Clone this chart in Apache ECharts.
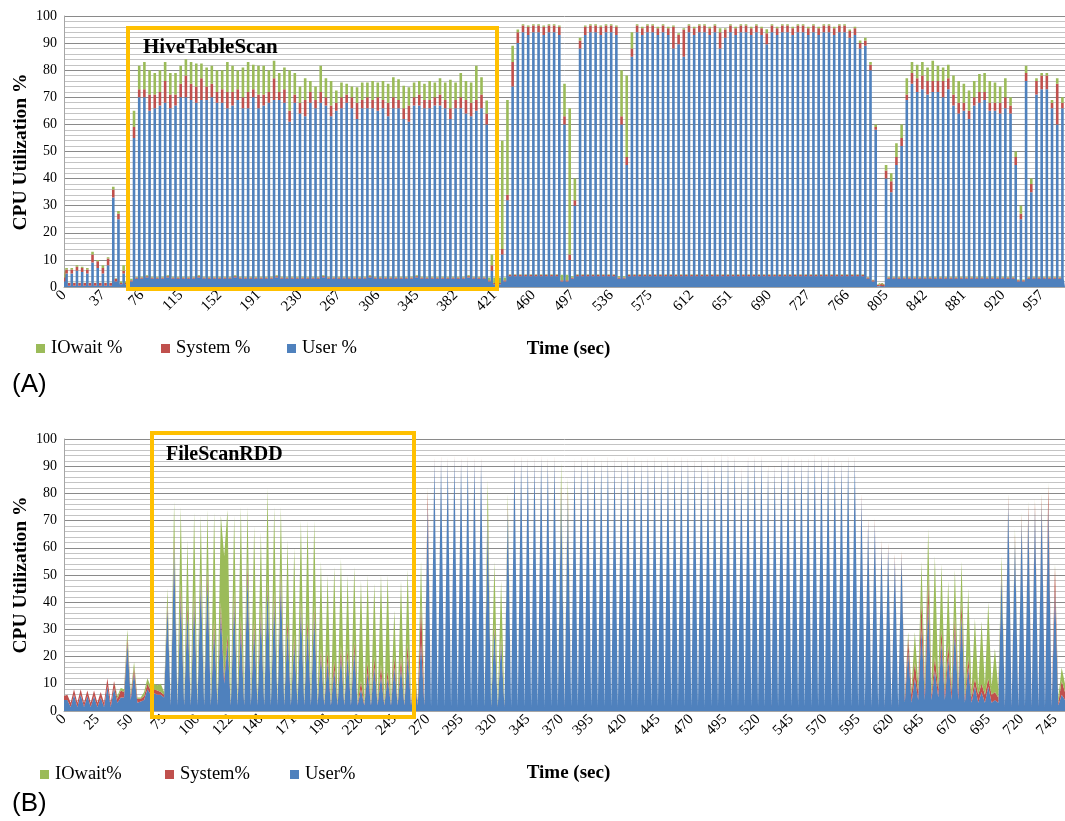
<!DOCTYPE html>
<html>
<head>
<meta charset="utf-8">
<script src="https://cdn.jsdelivr.net/npm/echarts@6/dist/echarts.min.js"></script>
<style>html,body{margin:0;padding:0;background:#fff;}#c{width:1065px;height:821px;}</style>
</head>
<body>
<div id="c"></div>
<script>
// ---------- Panel (A): HiveTableScan ----------
const tickLabelsA = ['0','37','76','115','152','191','230','267','306','345','382','421','460','497','536','575','612','651','690','727','766','805','842','881','920','957'];
const tickStepA = 115 / 3;   // seconds between labelled ticks
const sampleStepA = 2.539;   // seconds between samples (peaks and troughs alternate)

const userPeakA = [
  5,5,6,5.5,5,9,7,5,8,33,25,5,20,55,
  70,70,65,66,67,68,66,67,70,70,69,68,69,69,70,68,68,66,67,69,66,66,70,66,67,68,69,69,68,61,68,64,63,68,66,68,67,63,65,66,68,66,
  62,66,66,66,65,66,63,66,66,62,61,67,67,66,66,67,67,66,62,66,66,64,63,65,66,60,
  6,10,12,32,74,90,94,93,94,94,93,94,94,93,60,10,30,88,93,94,94,93,94,94,93,60,45,85,
  94,93,94,94,93,94,93,88,89.6,85,94,93,94,94,93,94,88,92,94,93,94,94,93,94,93,89.6,94,93,94,94,93,94,94,93,94,93,94,94,93,94,94,92,93,
  88,89,80,58,0.5,
  40,35,45,52,69,75,72,73,71,72,72,70,73,67,64,65,62,67,68,69,65,65,64,66,64,45,25,76,35,71,73,73,66,60,66
];
const sysPeakA = [
  1.5,1.5,1.5,1.5,1.5,3,2.5,2,2.5,3,2,1,2,4,
  3,3,6,5,5,8,5,4,5,8,6,6,8,5,5,4,5,6,5,4,4,6,3,5,4,4,8,3,5,4,3,4,6,4,3,4,3,4,3,4,3,4,
  6,3,4,3,5,3,5,4,3,4,6,3,4,3,3,3,4,3,4,3,4,5,5,4,5,4,
  2,2,2,2,9,4,2.5,3,2.5,2.5,3,2.5,2.5,3,3,2,2,3,3,2.5,2.5,3,2.5,2.5,3,3,3,3,
  2.5,2.5,2.5,2.5,2.5,2.5,2.5,8,3.5,10,2.5,2.5,2.5,2.5,2.5,2.5,6,3,2.5,2.5,2.5,2.5,2.5,2.5,2.5,4,2.5,2.5,2.5,2.5,2.5,2.5,2.5,2.5,2.5,2.5,2.5,2.5,2.5,2.5,2.5,2.5,2.5,
  2,2,2,1,1,
  3,4,3,3,2,4,5,5,5,4,4,6,4,4,4,3,3,3,4,3,3,3,4,4,3,3,2,3,3,5,5,5,2,15,2
];
const ioPeakA = [
  0.5,0.5,0.5,0.5,0.5,1,0.5,1,0.5,1,1,2,5,6,
  8.6,10,9,8,8,7,8,8,6.6,6,8,8.5,5.5,7,6.6,8,7,11,9.6,7,11,11,9,10.6,10.6,8,6.5,7,8,15,8,6,8,4,5,9.6,7,9,4.5,5.5,4,4,
  5.7,6.5,5.5,7,5.5,7,7,7.4,7.7,8.3,6.7,5.5,5,6,7,5.5,6,6.5,10.5,6.5,9,7,7.5,12.6,6.4,4.8,
  4,18,40,35,6,1,0.5,0.5,0.5,0.5,0.5,0.5,0.5,0.5,12,54,8,1,0.5,0.5,0.5,0.5,0.5,0.5,0.5,17,30,6,
  0.5,0.5,0.5,0.5,0.5,0.5,0.5,0.5,0.5,0.5,0.5,0.5,0.5,0.5,0.5,0.5,1.5,0.5,0.5,0.5,0.5,0.5,0.5,0.5,0.5,1.5,0.5,0.5,0.5,0.5,0.5,0.5,0.5,0.5,0.5,0.5,0.5,0.5,0.5,0.5,0.5,0.5,0.5,
  1,1,1,1,0,
  2,3,5,5,6,4,5,5,5,7.5,5.6,5,5,7,8,7,7.5,6,6.6,7,8,7.5,6,7,3,2,3,2.6,2,1,1,1,1,2,2
];
// troughs: one before every peak, plus one at the end
const userLowA = [
  2,0.5,0.5,0.5,0.5,0.5,0.5,0.5,0.5,0.5,2,1,1,2,
  3,3,3.5,3,3,3,3.5,3,3,3,3,3,3.5,3,3,3,3,3,3,3.5,3,3,3,3,3,3,3,3.5,3,3,3,3,3,3,3,3,3.5,3,3,3,3,3,
  3,3,3,3.5,3,3,3,3,3,3,3,3,3.5,3,3,3,3,3,3,3,3,3,3.5,3,3,3,
  2,1,1,2,
  4,4,4,4,4,4,4,4,4,4,2,2,3,4,4,4,4,4,4,4,4,3,3,4,4,4,4,4,4,4,4,4,4,4,4,4,4,4,4,4,4,4,4,4,4,4,4,4,4,4,4,4,4,4,4,4,4,4,4,4,4,4,4,4,4,4,4,4,4,3,2,
  0.3,0.3,
  3,3,3,3,3,3,3,3,3,3,3,3,3,3,3,3,3,3,3,3,3,3,3,3,3,2,2,3,3,3,3,3,3,3,
  3
];
const sysLowA = [
  1.5,1,1,1,1,1,1,1,1,1,1,0.5,0.5,0.5,
  0.5,0.5,0.5,0.5,0.5,0.5,0.5,0.5,0.5,0.5,0.5,0.5,0.5,0.5,0.5,0.5,0.5,0.5,0.5,0.5,0.5,0.5,0.5,0.5,0.5,0.5,0.5,0.5,0.5,0.5,0.5,0.5,0.5,0.5,0.5,0.5,0.5,0.5,0.5,0.5,0.5,0.5,
  0.5,0.5,0.5,0.5,0.5,0.5,0.5,0.5,0.5,0.5,0.5,0.5,0.5,0.5,0.5,0.5,0.5,0.5,0.5,0.5,0.5,0.5,0.5,0.5,0.5,0.5,
  0.5,0.5,0.5,0.5,
  0.5,0.5,0.5,0.5,0.5,0.5,0.5,0.5,0.5,0.5,0.5,0.5,0.5,0.5,0.5,0.5,0.5,0.5,0.5,0.5,0.5,0.5,0.5,0.5,0.5,0.5,0.5,0.5,0.5,0.5,0.5,0.5,0.5,0.5,0.5,0.5,0.5,0.5,0.5,0.5,0.5,0.5,0.5,0.5,0.5,0.5,0.5,0.5,0.5,0.5,0.5,0.5,0.5,0.5,0.5,0.5,0.5,0.5,0.5,0.5,0.5,0.5,0.5,0.5,0.5,0.5,0.5,0.5,0.5,0.5,0.5,
  0.5,0.5,
  0.5,0.5,0.5,0.5,0.5,0.5,0.5,0.5,0.5,0.5,0.5,0.5,0.5,0.5,0.5,0.5,0.5,0.5,0.5,0.5,0.5,0.5,0.5,0.5,0.5,0.5,0.5,0.5,0.5,0.5,0.5,0.5,0.5,0.5,
  0.5
];
const ioLowA = [
  0.2,0.1,0.1,0.1,0.1,0.1,0.1,0.1,0.1,0.1,0.2,0.5,0.5,0.5,
  0.3,0.3,0.3,0.3,0.3,0.3,0.3,0.3,0.3,0.3,0.3,0.3,0.3,0.3,0.3,0.3,0.3,0.3,0.3,0.3,0.3,0.3,0.3,0.3,0.3,0.3,0.3,0.3,0.3,0.3,0.3,0.3,0.3,0.3,0.3,0.3,0.3,0.3,0.3,0.3,0.3,0.3,
  0.3,0.3,0.3,0.3,0.3,0.3,0.3,0.3,0.3,0.3,0.3,0.3,0.3,0.3,0.3,0.3,0.3,0.3,0.3,0.3,0.3,0.3,0.3,0.3,0.3,0.3,
  1,2,2,1,
  0.2,0.2,0.2,0.2,0.2,0.2,0.2,0.2,0.2,0.2,2,2,0.5,0.2,0.2,0.2,0.2,0.2,0.2,0.2,0.2,0.5,0.5,0.2,0.2,0.2,0.2,0.2,0.2,0.2,0.2,0.2,0.2,0.2,0.2,0.2,0.2,0.2,0.2,0.2,0.2,0.2,0.2,0.2,0.2,0.2,0.2,0.2,0.2,0.2,0.2,0.2,0.2,0.2,0.2,0.2,0.2,0.2,0.2,0.2,0.2,0.2,0.2,0.2,0.2,0.2,0.2,0.2,0.2,0.2,0.2,
  0,0,
  0.3,0.3,0.3,0.3,0.3,0.3,0.3,0.3,0.3,0.3,0.3,0.3,0.3,0.3,0.3,0.3,0.3,0.3,0.3,0.3,0.3,0.3,0.3,0.3,0.3,0.3,0.3,0.3,0.3,0.3,0.3,0.3,0.3,0.3,
  0.3
];

// ---------- Panel (B): FileScanRDD ----------
const tickLabelsB = ['0','25','50','75','100','122','146','171','196','220','245','270','295','320','345','370','395','420','445','470','495','520','545','570','595','620','645','670','695','720','745'];
const tickStepB = 25;
const sampleStepB = 2.525;

const userPeakB = [
  4,6,6,5.5,5.5,5,9,8.5,5,25,14,3.5,8,6.5,6,
  38,60,42,36,40,48,48,30,36,25,40,30,50,30,35,45,40,48,30,25,38,30,35,20,18,15,20,20,22,
  8,14,16,13,12,16,16,20,12,25,76,
  92,92.5,92,93,92,92.5,92,92,
  70,30,25,74,
  92,92.5,92,92,93,92,92.5,
  80,78,
  91.5,92.5,92,92.5,91.5,92.5,92,91.5,92.5,92.5,91.5,92,92.5,91.5,92.5,91.5,92.5,92,91.5,92.5,
  89.5,92.5,93.5,93.5,93,88.5,92.5,93,93,89.5,89.5,93,93,92,92,92,93.5,93,92.5,92,91,92.5,92.5,
  78,69,69,61,60,56,57,
  22,12,30,40,15,25,20,30,35,16,9,7,9,4,
  50,77,63,70,73,74,76,76,45,6
];
const sysPeakB = [
  2,2,2,2,2,2,3,2.5,2.5,2,2,1,2,1.5,1,
  2,4,5,4,4,3,4,4,4,3,4,5,5,4,4,3,4,4,4,3,3,4,4,3,4,4,4,3,4,
  3,4,4,4,3,4,4,5,3,15,5,
  1,1,1,1,1,1,1,1,
  3,2,2,2,
  1,1,1,1,1,1,1,
  3,3,
  1,1,1,1,1,1,1,1,1,1,1,1,1,1,1,1,1,1,1,1,
  1,1,1,1,1,1,1,1,1,1,1,1,1,1,1,1,1,1,1,1,1,1,1,
  1.5,1.5,1.5,1.5,1.5,1.5,1.5,
  5,6,10,10,5,5,5,5,5,4,3,3,3,3,
  2,2,2,2,3,3,3,7,8,5
];
const ioPeakB = [
  0,0,0,0,0,0,0,0,1,3,2,0.5,2,2,3,
  5,13,28,23,29,21,22,39,32,46,28,40,20,34,27,34,31,23,29,32,29,36,31,32,28,34,32,27,27,
  37,32,27,33,35,17,28,27,5,15,1,
  0.5,0.5,0.5,0.5,0.5,0.5,0.5,0.5,
  12,23,21,4,
  0.5,0.5,0.5,0.5,0.5,0.5,0.5,
  8.5,5,
  0.5,0.5,0.5,0.5,0.5,0.5,0.5,0.5,0.5,0.5,0.5,0.5,0.5,0.5,0.5,0.5,0.5,0.5,0.5,0.5,
  0.5,0.5,0.5,0.5,0.5,0.5,0.5,0.5,0.5,0.5,0.5,0.5,0.5,0.5,0.5,0.5,0.5,0.5,0.5,0.5,0.5,0.5,0.5,
  0.5,0.5,0.5,0.5,0.5,0.5,0.5,
  2,11,15,17,37,24,23,17,15,25,22,23,28,16,
  5,1,2,1,1,1,1,1,1,5
];
const userLowB = [
  4,1.5,1.5,1.5,1.5,1.5,1.5,1.5,3,5,4,3,4,6,6,
  5,2,2,2,2,2,2,2,2,10,2,2,2,2,2,2,2,2,2,2,2,2,2,2,2,2,2,2,2,
  2,2,2,2,2,2,2,2,2,2,2,
  1.5,1.5,1.5,1.5,1.5,1.5,1.5,1.5,
  1.5,1.5,1.5,1.5,
  1.5,1.5,1.5,1.5,1.5,1.5,1.5,
  1.5,1.5,
  1.5,1.5,1.5,1.5,1.5,1.5,1.5,1.5,1.5,1.5,1.5,1.5,1.5,1.5,1.5,1.5,1.5,1.5,1.5,1.5,
  1.5,1.5,1.5,1.5,1.5,1.5,1.5,1.5,1.5,1.5,1.5,1.5,1.5,1.5,1.5,1.5,1.5,1.5,1.5,1.5,1.5,1.5,1.5,
  1.5,1.5,1.5,1.5,1.5,1.5,1.5,
  3,3,4,4,4,5,4,4,4,3,3,3,3,3,
  3,1.5,1.5,1.5,1.5,1.5,1.5,1.5,1.5,2,
  4
];
const sysLowB = [
  1.5,1.5,1.5,1.5,1.5,1.5,1.5,1.5,1.5,2,1.5,1.5,1.5,1.5,1.5,
  1,0.5,0.5,0.5,0.5,0.5,0.5,0.5,0.5,2,0.5,0.5,0.5,0.5,0.5,0.5,0.5,0.5,0.5,0.5,0.5,0.5,0.5,0.5,0.5,0.5,0.5,0.5,0.5,
  0.5,0.5,0.5,0.5,0.5,0.5,0.5,0.5,0.5,0.5,0.5,
  0.3,0.3,0.3,0.3,0.3,0.3,0.3,0.3,
  0.3,0.3,0.3,0.3,
  0.3,0.3,0.3,0.3,0.3,0.3,0.3,
  0.3,0.3,
  0.3,0.3,0.3,0.3,0.3,0.3,0.3,0.3,0.3,0.3,0.3,0.3,0.3,0.3,0.3,0.3,0.3,0.3,0.3,0.3,
  0.3,0.3,0.3,0.3,0.3,0.3,0.3,0.3,0.3,0.3,0.3,0.3,0.3,0.3,0.3,0.3,0.3,0.3,0.3,0.3,0.3,0.3,0.3,
  0.3,0.3,0.3,0.3,0.3,0.3,0.3,
  2,3,3,3,2,3,3,3,3,2,2,3,3,3,
  2,0.5,0.5,0.5,0.5,0.5,0.5,0.5,0.5,1,
  3
];
const ioLowB = [
  0,0,0,0,0,0,0,0,1,1,1,0.5,1.5,1.5,2,
  1,0.3,0.3,0.3,0.3,0.3,0.3,0.3,0.3,45,0.3,0.3,0.3,0.3,0.3,0.3,0.3,0.3,0.3,0.3,0.3,0.3,0.3,0.3,0.3,0.3,0.3,0.3,0.3,
  0.3,0.3,0.3,0.3,0.3,0.3,0.3,0.3,0.3,0.3,0.3,
  0.2,0.2,0.2,0.2,0.2,0.2,0.2,0.2,
  0.5,0.5,0.5,0.2,
  0.2,0.2,0.2,0.2,0.2,0.2,0.2,
  0.2,0.2,
  0.2,0.2,0.2,0.2,0.2,0.2,0.2,0.2,0.2,0.2,0.2,0.2,0.2,0.2,0.2,0.2,0.2,0.2,0.2,0.2,
  0.2,0.2,0.2,0.2,0.2,0.2,0.2,0.2,0.2,0.2,0.2,0.2,0.2,0.2,0.2,0.2,0.2,0.2,0.2,0.2,0.2,0.2,0.2,
  0.2,0.2,0.2,0.2,0.2,0.2,0.2,
  1,2,3,3,2,3,2,2,2,3,2,2,3,3,
  3,0.3,0.3,0.3,0.3,0.3,0.3,0.3,0.3,2,
  3
];

// ---------- helpers: interleave troughs and peaks as consecutive samples ----------
function samples(low, peak) {
  const out = [];
  for (let i = 0; i < peak.length; i++) { out.push(low[i]); out.push(peak[i]); }
  out.push(low[peak.length]);
  return out;
}
function sampleTimes(count, step) {
  const t = [];
  for (let i = 0; i < count; i++) t.push((i * step).toFixed(1));
  return t;
}
// which sample index carries each tick label
function labelMap(labels, tickStep, sampleStep) {
  const m = {};
  labels.forEach((lab, k) => { m[Math.round(k * tickStep / sampleStep)] = lab; });
  return m;
}

const COLORS = { io: '#9BBB59', sys: '#C0504D', user: '#4F81BD' };
const SERIF = '"Liberation Serif", "Times New Roman", serif';

function areaSeries(name, stack, xi, data, color, step) {
  return {
    name, type: 'line', stack, xAxisIndex: xi, yAxisIndex: xi, data, step,
    showSymbol: false, symbol: 'none', smooth: false, silent: true,
    lineStyle: { width: 0, color }, itemStyle: { color },
    areaStyle: { color, opacity: 1 }, emphasis: { disabled: true }
  };
}

function yAxisFor(gi) {
  return {
    type: 'value', gridIndex: gi, min: 0, max: 100, interval: 10,
    axisLine: { show: true, lineStyle: { color: '#a6a6a6', width: 1 } },
    axisTick: { show: false },
    axisLabel: { fontFamily: SERIF, fontSize: 14, color: '#000', margin: 7 },
    splitLine: { show: true, lineStyle: { color: '#8a8a8a', width: 1 } },
    minorTick: { show: false, splitNumber: 5 },
    minorSplitLine: { show: true, lineStyle: { color: '#c4c4c4', width: 1 } }
  };
}

function xAxisFor(gi, times, lmap) {
  return {
    type: 'category', gridIndex: gi, data: times, boundaryGap: false,
    axisLine: { show: true, lineStyle: { color: '#a6a6a6', width: 1 } },
    axisTick: { show: false }, splitLine: { show: false },
    axisLabel: {
      rotate: 45, fontFamily: SERIF, fontSize: 15, color: '#000', margin: 6,
      interval: function (idx) { return lmap[idx] !== undefined; },
      formatter: function (v, idx) { return lmap[idx] !== undefined ? lmap[idx] : ''; }
    },
    name: 'Time (sec)', nameLocation: 'middle', nameGap: 53,
    nameTextStyle: { fontFamily: SERIF, fontWeight: 'bold', fontSize: 19, color: '#000', padding: [0, 0, 0, 8] }
  };
}

function legendAt(name, left, top, color) {
  return {
    data: [{ name, icon: 'rect', itemStyle: { color } }], left, top,
    itemWidth: 9, itemHeight: 9, selectedMode: false, padding: 0,
    textStyle: { fontFamily: SERIF, fontSize: 18.5, color: '#000', padding: [0, 0, 0, 1] }
  };
}

function yTitle(cy) {
  return {
    type: 'text', z: 101, x: 21, y: cy, rotation: Math.PI / 2,
    style: { text: 'CPU Utilization %', font: 'bold 19.5px ' + SERIF, fill: '#000', align: 'center', verticalAlign: 'middle' }
  };
}

const dataA = {
  user: samples(userLowA, userPeakA), sys: samples(sysLowA, sysPeakA), io: samples(ioLowA, ioPeakA)
};
const dataB = {
  user: samples(userLowB, userPeakB), sys: samples(sysLowB, sysPeakB), io: samples(ioLowB, ioPeakB)
};
const timesA = sampleTimes(dataA.user.length, sampleStepA);
const timesB = sampleTimes(dataB.user.length, sampleStepB);

const chart = echarts.init(document.getElementById('c'), null, { renderer: 'canvas' });
chart.setOption({
  animation: false,
  backgroundColor: '#fff',
  grid: [
    { left: 64, width: 1001, top: 16, height: 271 },
    { left: 64, width: 1001, top: 439, height: 272 }
  ],
  xAxis: [
    xAxisFor(0, timesA, labelMap(tickLabelsA, tickStepA, sampleStepA)),
    xAxisFor(1, timesB, labelMap(tickLabelsB, tickStepB, sampleStepB))
  ],
  yAxis: [yAxisFor(0), yAxisFor(1)],
  legend: [
    legendAt('IOwait %', 36, 339, COLORS.io),
    legendAt('System %', 161, 339, COLORS.sys),
    legendAt('User %', 287, 339, COLORS.user),
    legendAt('IOwait%', 40, 765, COLORS.io),
    legendAt('System%', 165, 765, COLORS.sys),
    legendAt('User%', 290, 765, COLORS.user)
  ],
  series: [
    areaSeries('User %', 'A', 0, dataA.user, COLORS.user, 'middle'),
    areaSeries('System %', 'A', 0, dataA.sys, COLORS.sys, 'middle'),
    areaSeries('IOwait %', 'A', 0, dataA.io, COLORS.io, 'middle'),
    areaSeries('User%', 'B', 1, dataB.user, COLORS.user, false),
    areaSeries('System%', 'B', 1, dataB.sys, COLORS.sys, false),
    areaSeries('IOwait%', 'B', 1, dataB.io, COLORS.io, false)
  ],
  graphic: [
    yTitle(152),
    yTitle(575),
    { type: 'rect', z: 100, shape: { x: 128, y: 28, width: 369, height: 261 },
      style: { fill: 'none', stroke: '#FFC000', lineWidth: 4 } },
    { type: 'text', z: 101, x: 143, y: 48,
      style: { text: 'HiveTableScan', font: 'bold 21px ' + SERIF, fill: '#000', verticalAlign: 'middle' } },
    { type: 'rect', z: 100, shape: { x: 152, y: 433, width: 262, height: 284 },
      style: { fill: 'none', stroke: '#FFC000', lineWidth: 4 } },
    { type: 'text', z: 101, x: 166, y: 455,
      style: { text: 'FileScanRDD', font: 'bold 20px ' + SERIF, fill: '#000', verticalAlign: 'middle' } },
    { type: 'text', z: 101, x: 12, y: 385,
      style: { text: '(A)', font: '26px "Liberation Sans", Arial, sans-serif', fill: '#000', verticalAlign: 'middle' } },
    { type: 'text', z: 101, x: 12, y: 804,
      style: { text: '(B)', font: '26px "Liberation Sans", Arial, sans-serif', fill: '#000', verticalAlign: 'middle' } }
  ]
});
</script>
</body>
</html>
